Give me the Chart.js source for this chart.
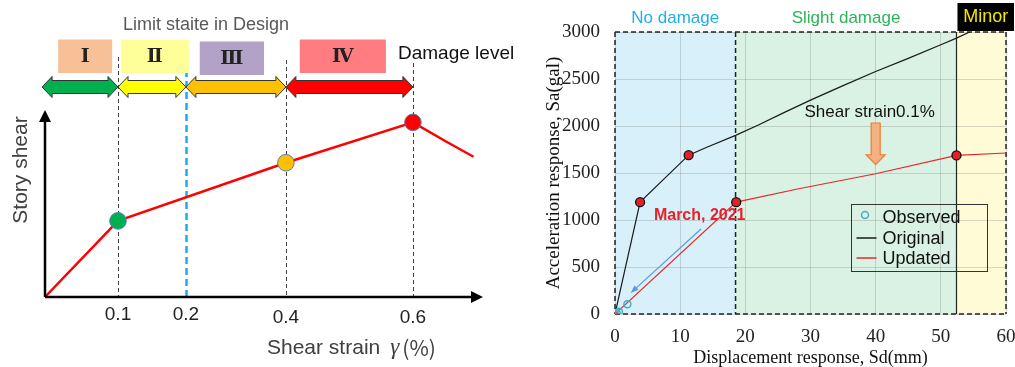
<!DOCTYPE html>
<html>
<head>
<meta charset="utf-8">
<script src="https://cdn.jsdelivr.net/npm/chart.js@4.4.1/dist/chart.umd.min.js"></script>
<style>
  html, body { margin: 0; padding: 0; background: #fff; }
  #wrap { position: relative; width: 1015px; height: 367px; overflow: hidden; }
  #leftBox { position: absolute; left: 0; top: 0; width: 530px; height: 367px; }
  #rightBox { position: absolute; left: 530px; top: 0; width: 485px; height: 367px; }
</style>
</head>
<body>
<div id="wrap">
  <div id="leftBox"><canvas id="damageChart"></canvas></div>
  <div id="rightBox"><canvas id="capacityChart"></canvas></div>
</div>
<script>
const SANS = '"Liberation Sans", Arial, sans-serif';
const SERIF = '"Liberation Serif", "Times New Roman", serif';

// ─── Left panel data (schematic, axis positions are not to scale) ────────────
const strainTickLabels = ['0.1', '0.2', '0.4', '0.6'];
const strainTickPos = [1, 1.93, 3.30, 5.04];
const shearCurveX = [0, 1, 3.30, 5.04, 5.50, 5.87];
const shearCurveY = [0, 4.07, 7.18, 9.34, 8.30, 7.50];
const limitPointX = [1, 3.30, 5.04];
const limitPointY = [4.07, 7.18, 9.34];
const limitPointColors = ['#00b050', '#ffc000', '#ff0000'];
const damageLevels = ['Ⅰ', 'Ⅱ', 'Ⅲ', 'Ⅳ'];
const damageBandFrom = [-0.04, 1, 1.93, 3.30];
const damageBandTo = [1, 1.93, 3.30, 5.04];
const damageBandColors = ['#00b050', '#ffff00', '#ffc000', '#ff0000'];
const levelBoxColors = ['#f8c096', '#ffff99', '#b3a2c7', '#ff7c80'];

// ─── Right panel data ────────────────────────────────────────────────────────
const observedSd = [0, 0.25, 0.6, 1.9];
const observedSa = [0, 10, 25, 105];
const originalSd = [0, 3.85, 11.3, 14, 18.5, 22, 26, 30, 35, 40, 45, 50, 52.4, 54.6, 58];
const originalSa = [0, 1190, 1690, 1772, 1900, 2010, 2145, 2275, 2430, 2580, 2720, 2865, 2935, 3006, 3110];
const updatedSd = [0, 18.6, 28, 40, 52.4, 60];
const updatedSa = [0, 1190, 1330, 1492, 1687, 1713];
const originalMarkSd = [3.85, 11.3];
const originalMarkSa = [1190, 1690];
const updatedMarkSd = [18.6, 52.4];
const updatedMarkSa = [1190, 1687];
const zoneEdges = [0, 18.5, 52.4, 60];
const zoneNames = ['No damage', 'Slight damage', 'Minor'];
const zoneFills = ['#d8f0fa', '#d9f2e3', '#fffbd6'];
const zoneTextColors = ['#1fb0e6', '#2cb457', '#f2e600'];

const pts = (xs, ys) => xs.map((v, i) => ({ x: v, y: ys[i] }));

// ─── Drawing helpers ─────────────────────────────────────────────────────────
function blockArrow(ctx, x0, x1, yc, fill) {
  const head = 10, hh = 10.5, sh = 6.5;
  ctx.beginPath();
  ctx.moveTo(x0, yc);
  ctx.lineTo(x0 + head, yc - hh);
  ctx.lineTo(x0 + head, yc - sh);
  ctx.lineTo(x1 - head, yc - sh);
  ctx.lineTo(x1 - head, yc - hh);
  ctx.lineTo(x1, yc);
  ctx.lineTo(x1 - head, yc + hh);
  ctx.lineTo(x1 - head, yc + sh);
  ctx.lineTo(x0 + head, yc + sh);
  ctx.lineTo(x0 + head, yc + hh);
  ctx.closePath();
  ctx.fillStyle = fill;
  ctx.fill();
  ctx.strokeStyle = '#333';
  ctx.lineWidth = 1;
  ctx.stroke();
}

function text(ctx, str, x, y, font, color, align = 'center') {
  ctx.font = font;
  ctx.fillStyle = color;
  ctx.textAlign = align;
  ctx.textBaseline = 'middle';
  ctx.fillText(str, x, y);
}

// ─── Left panel plugin ───────────────────────────────────────────────────────
const schematicPlugin = {
  id: 'schematic',
  beforeDatasetsDraw(chart) {
    const { ctx, chartArea: a, scales: { x } } = chart;
    const guideTop = [57, 59, 60, 63];
    ctx.save();
    strainTickPos.forEach((v, i) => {
      const px = Math.round(x.getPixelForValue(v)) + 0.5;
      const design = i === 1;
      ctx.strokeStyle = design ? '#1aaee8' : '#404040';
      ctx.lineWidth = design ? 2.5 : 1;
      ctx.setLineDash(design ? [7, 4] : [4, 3]);
      ctx.beginPath();
      ctx.moveTo(px, guideTop[i]);
      ctx.lineTo(px, a.bottom);
      ctx.stroke();
    });
    ctx.restore();
  },
  afterDraw(chart) {
    const { ctx, chartArea: a, scales: { x } } = chart;
    ctx.save();

    // axes with arrow heads
    ctx.strokeStyle = '#000';
    ctx.fillStyle = '#000';
    ctx.lineWidth = 2.5;
    ctx.beginPath();
    ctx.moveTo(a.left, a.bottom);
    ctx.lineTo(a.left, a.top + 10);
    ctx.moveTo(a.left, a.bottom);
    ctx.lineTo(a.right - 10, a.bottom);
    ctx.stroke();
    ctx.beginPath();
    ctx.moveTo(a.left, a.top);
    ctx.lineTo(a.left - 6, a.top + 12);
    ctx.lineTo(a.left + 6, a.top + 12);
    ctx.closePath();
    ctx.moveTo(a.right, a.bottom);
    ctx.lineTo(a.right - 12, a.bottom - 6);
    ctx.lineTo(a.right - 12, a.bottom + 6);
    ctx.closePath();
    ctx.fill();

    // tick labels
    strainTickPos.forEach((v, i) => {
      text(ctx, strainTickLabels[i], x.getPixelForValue(v), i < 2 ? 315 : 318, `19px ${SANS}`, '#222');
    });

    // damage level bands
    damageBandFrom.forEach((v, i) => {
      blockArrow(ctx, x.getPixelForValue(v), x.getPixelForValue(damageBandTo[i]), 87, damageBandColors[i]);
    });

    // damage level boxes
    const boxFrom = [0.18, 1.04, 2.12, 3.49];
    const boxTo = [0.92, 1.97, 3.00, 4.67];
    damageLevels.forEach((lbl, i) => {
      const x0 = x.getPixelForValue(boxFrom[i]);
      const x1 = x.getPixelForValue(boxTo[i]);
      const y0 = i === 2 ? 41.5 : 39.5;
      ctx.fillStyle = levelBoxColors[i];
      ctx.fillRect(x0, y0, x1 - x0, 33.5);
      text(ctx, lbl, (x0 + x1) / 2, y0 + 18, `bold 19px "DejaVu Serif", ${SERIF}`, '#222');
    });

    text(ctx, 'Limit staite in Design', 206, 25, `18px ${SANS}`, '#595959');
    text(ctx, 'Damage level', 398, 54, `19px ${SANS}`, '#111', 'left');

    // axis titles
    ctx.save();
    ctx.translate(21, 170);
    ctx.rotate(-Math.PI / 2);
    text(ctx, 'Story shear', 0, 0, `21px ${SANS}`, '#404040');
    ctx.restore();

    let tx = 267;
    ctx.font = `21px ${SANS}`;
    text(ctx, 'Shear strain', tx, 348, `21px ${SANS}`, '#404040', 'left');
    tx += ctx.measureText('Shear strain').width + 10;
    text(ctx, 'γ', tx, 348, `italic 23px ${SERIF}`, '#404040', 'left');
    tx += ctx.measureText('γ').width + 3;
    text(ctx, '(%)', tx, 348, `21px "Noto Sans CJK JP", ${SANS}`, '#404040', 'left');

    ctx.restore();
  }
};

new Chart(document.getElementById('damageChart'), {
  type: 'scatter',
  data: {
    datasets: [
      {
        type: 'line',
        data: pts(shearCurveX, shearCurveY),
        borderColor: '#ff0000',
        borderWidth: 2.5,
        pointRadius: 0,
        tension: 0,
        clip: false,
        order: 2,
      },
      {
        data: pts(limitPointX, limitPointY),
        pointRadius: 8.3,
        pointBackgroundColor: limitPointColors,
        pointBorderColor: '#5b7bb5',
        pointBorderWidth: 1,
        clip: false,
        order: 1,
      }
    ]
  },
  options: {
    responsive: true, maintainAspectRatio: false, animation: false,
    layout: { padding: { left: 45, top: 110, right: 47, bottom: 70 } },
    plugins: { legend: { display: false }, tooltip: { enabled: false } },
    scales: {
      x: { type: 'linear', min: 0, max: 6, display: false },
      y: { type: 'linear', min: 0, max: 10, display: false }
    }
  },
  plugins: [schematicPlugin]
});

// ─── Right panel plugin ──────────────────────────────────────────────────────
const zonePlugin = {
  id: 'zones',
  beforeDraw(chart) {
    const { ctx, chartArea: a, scales: { x } } = chart;
    ctx.save();
    zoneFills.forEach((c, i) => {
      const x0 = x.getPixelForValue(zoneEdges[i]);
      const x1 = x.getPixelForValue(zoneEdges[i + 1]);
      ctx.fillStyle = c;
      ctx.fillRect(x0, a.top, x1 - x0, a.bottom - a.top);
    });
    ctx.restore();
  },
  beforeDatasetsDraw(chart) {
    const { ctx, chartArea: a, scales: { x } } = chart;
    ctx.save();
    ctx.strokeStyle = '#222';
    ctx.lineWidth = 1.5;
    ctx.setLineDash([5, 3]);
    ctx.beginPath();
    ctx.moveTo(a.left, a.top); ctx.lineTo(a.right, a.top);
    ctx.moveTo(a.left, a.bottom); ctx.lineTo(a.right, a.bottom);
    [0, 1, 3].forEach(i => {
      const px = x.getPixelForValue(zoneEdges[i]);
      ctx.moveTo(px, a.top); ctx.lineTo(px, a.bottom);
    });
    ctx.stroke();
    ctx.setLineDash([]);
    ctx.lineWidth = 1.2;
    const px = Math.round(x.getPixelForValue(zoneEdges[2])) + 0.5;
    ctx.beginPath();
    ctx.moveTo(px, a.top); ctx.lineTo(px, a.bottom);
    ctx.stroke();
    ctx.restore();
  },
  afterDraw(chart) {
    const { ctx, scales: { x, y } } = chart;
    ctx.save();

    // zone titles
    const minorX0 = x.getPixelForValue(zoneEdges[2]) + 1;
    ctx.fillStyle = '#000';
    ctx.fillRect(minorX0, 3, 485 - minorX0 - 1, 28);
    zoneNames.forEach((name, i) => {
      const cx = i === 2 ? (minorX0 + 484) / 2 : (x.getPixelForValue(zoneEdges[i]) + x.getPixelForValue(zoneEdges[i + 1])) / 2;
      text(ctx, name, cx, i === 2 ? 17 : 18, `${i === 2 ? 18 : 17}px ${SANS}`, zoneTextColors[i]);
    });

    // "Shear strain0.1%" with orange arrow
    const ax = x.getPixelForValue(40);
    text(ctx, 'Shear strain0.1%', ax - 6, 112, `17px ${SANS}`, '#111');
    const top = y.getPixelForValue(2032), tip = y.getPixelForValue(1588);
    ctx.beginPath();
    ctx.moveTo(ax - 4.5, top);
    ctx.lineTo(ax + 4.5, top);
    ctx.lineTo(ax + 4.5, tip - 10);
    ctx.lineTo(ax + 9.5, tip - 10);
    ctx.lineTo(ax, tip);
    ctx.lineTo(ax - 9.5, tip - 10);
    ctx.lineTo(ax - 4.5, tip - 10);
    ctx.closePath();
    ctx.fillStyle = '#f6b183';
    ctx.fill();
    ctx.strokeStyle = '#ed7d31';
    ctx.lineWidth = 1.2;
    ctx.stroke();

    // March, 2021 annotation
    text(ctx, 'March, 2021', x.getPixelForValue(13.0), y.getPixelForValue(1045), `bold 16px ${SANS}`, '#e8202a');
    const sx = x.getPixelForValue(13.2), sy = y.getPixelForValue(904);
    const ex = x.getPixelForValue(2.4), ey = y.getPixelForValue(223);
    const ang = Math.atan2(ey - sy, ex - sx);
    ctx.strokeStyle = '#5b9bd5';
    ctx.fillStyle = '#5b9bd5';
    ctx.lineWidth = 1.2;
    ctx.beginPath();
    ctx.moveTo(sx, sy);
    ctx.lineTo(ex - 5 * Math.cos(ang), ey - 5 * Math.sin(ang));
    ctx.stroke();
    ctx.beginPath();
    ctx.moveTo(ex, ey);
    ctx.lineTo(ex - 8 * Math.cos(ang) + 3 * Math.sin(ang), ey - 8 * Math.sin(ang) - 3 * Math.cos(ang));
    ctx.lineTo(ex - 8 * Math.cos(ang) - 3 * Math.sin(ang), ey - 8 * Math.sin(ang) + 3 * Math.cos(ang));
    ctx.closePath();
    ctx.fill();

    // legend
    ctx.strokeStyle = '#333';
    ctx.lineWidth = 1;
    ctx.strokeRect(321.5, 204.5, 136, 67);
    const rows = [217, 238, 258];
    chart.data.datasets.slice(0, 3).forEach((ds, i) => {
      ctx.strokeStyle = ds.borderColor;
      ctx.lineWidth = 1.5;
      ctx.beginPath();
      if (i === 0) {
        ctx.arc(335, 215, 3.5, 0, Math.PI * 2);
      } else {
        ctx.moveTo(326.5, rows[i]);
        ctx.lineTo(346.5, rows[i]);
      }
      ctx.stroke();
      text(ctx, ds.label, 352.5, rows[i] + 1, `18px ${SANS}`, '#111', 'left');
    });

    ctx.restore();
  }
};

const tickFont = { family: SERIF, size: 19 };
const gridStyle = { color: 'rgba(130,130,130,0.3)', drawTicks: false };

new Chart(document.getElementById('capacityChart'), {
  type: 'scatter',
  data: {
    datasets: [
      {
        label: 'Observed',
        data: pts(observedSd, observedSa),
        pointRadius: 3.5,
        pointBackgroundColor: 'rgba(0,0,0,0)',
        borderColor: '#45b0c8',
        pointBorderWidth: 1.5,
        showLine: false,
        order: 1,
      },
      {
        label: 'Original',
        type: 'line',
        data: pts(originalSd, originalSa),
        borderColor: '#1a1a1a',
        borderWidth: 1.2,
        pointRadius: 0,
        tension: 0,
        order: 3,
      },
      {
        label: 'Updated',
        type: 'line',
        data: pts(updatedSd, updatedSa),
        borderColor: '#e8262a',
        borderWidth: 1.2,
        pointRadius: 0,
        tension: 0,
        order: 2,
      },
      {
        label: 'Original marks',
        data: pts(originalMarkSd, originalMarkSa),
        pointRadius: 4.5,
        pointBackgroundColor: '#e0202a',
        pointBorderColor: '#111',
        pointBorderWidth: 1.3,
        order: 0,
      },
      {
        label: 'Updated marks',
        data: pts(updatedMarkSd, updatedMarkSa),
        pointRadius: 4.5,
        pointBackgroundColor: '#e0202a',
        pointBorderColor: '#111',
        pointBorderWidth: 1.3,
        clip: false,
        order: 0,
      }
    ]
  },
  options: {
    responsive: true, maintainAspectRatio: false, animation: false,
    layout: { padding: { left: 0, top: 32, right: 9, bottom: 0 } },
    plugins: { legend: { display: false }, tooltip: { enabled: false } },
    scales: {
      x: {
        type: 'linear', min: 0, max: 60,
        ticks: { stepSize: 10, font: tickFont, color: '#222', padding: 12, maxRotation: 0, callback: v => String(v) },
        grid: gridStyle,
        border: { display: false },
        title: {
          display: true, text: 'Displacement response, Sd(mm)',
          font: { family: SERIF, size: 18, lineHeight: 1 }, color: '#111',
          padding: { top: 0, bottom: 0 }
        },
        afterFit(s) { s.height = 53; s.paddingLeft = 0; s.paddingRight = 0; }
      },
      y: {
        type: 'linear', min: 0, max: 3000,
        ticks: { stepSize: 500, font: tickFont, color: '#222', padding: 15, callback: v => String(v) },
        grid: gridStyle,
        border: { display: false },
        title: {
          display: true, text: 'Acceleration response, Sa(gal)',
          font: { family: SERIF, size: 19, lineHeight: 1.2 }, color: '#111',
          padding: { top: 13, bottom: 0 }
        },
        afterFit(s) { s.width = 85; }
      }
    }
  },
  plugins: [zonePlugin]
});
</script>
</body>
</html>
